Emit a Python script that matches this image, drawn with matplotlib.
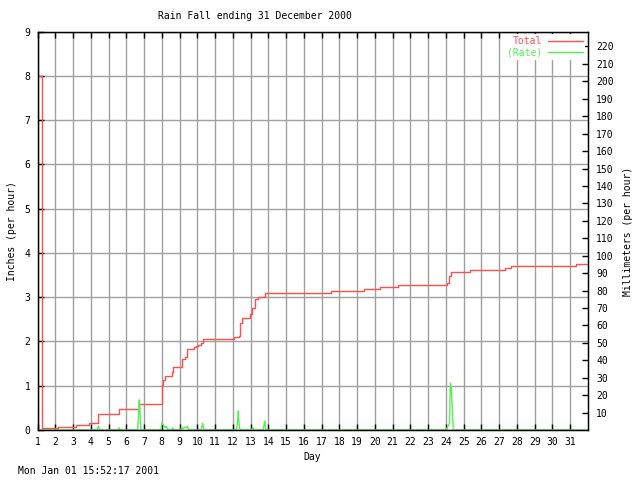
#! /usr/bin/env python
# Rain fall chart for December 2000, drawn to look like the old gnuplot png.
# usage: python plot.py

import numpy as np
import matplotlib
matplotlib.use("Agg")
import matplotlib.pyplot as plt

# total rain (inches), drawn as steps
total_days = [1.0, 1.28, 2.18, 3.16, 3.92, 4.43, 5.60, 6.73, 7.89,
              8.0, 8.08, 8.17, 8.45, 8.55, 8.64, 8.92, 9.11, 9.16, 9.29,
              9.42, 9.82, 9.90, 10.05, 10.20, 10.32, 12.0, 12.05, 12.33,
              12.38, 12.53, 12.85, 12.95, 13.09, 13.22, 13.41, 13.70, 13.82,
              17.53, 19.36, 20.30, 21.31, 24.08, 24.15, 24.20, 24.27,
              25.33, 27.31, 27.65, 31.34, 32.0]
total_inches = [8.0, 0.04, 0.068, 0.106, 0.158, 0.36, 0.475, 0.59, 0.59,
                1.02, 1.13, 1.22, 1.22, 1.32, 1.42, 1.42, 1.51, 1.60, 1.65,
                1.84, 1.88, 1.90, 1.93, 1.97, 2.05, 2.05, 2.11, 2.12,
                2.42, 2.54, 2.54, 2.63, 2.75, 2.96, 3.00, 3.01, 3.10,
                3.14, 3.18, 3.23, 3.27, 3.33, 3.40, 3.48, 3.57,
                3.61, 3.66, 3.71, 3.74, 3.74]

# rain rate (inches per hour)
rate_days = [1.0, 4.35, 4.43, 4.50, 5.55, 5.60, 5.65,
             6.62, 6.64, 6.67, 6.73, 6.77, 6.82,
             7.95, 8.0, 8.08, 8.17, 8.25, 8.32, 8.55, 8.62, 8.68,
             9.05, 9.12, 9.20, 9.30, 9.38, 9.45, 9.52,
             10.22, 10.30, 10.38, 12.20, 12.23, 12.27, 12.31, 12.34, 12.38, 12.45,
             13.05, 13.12, 13.20, 13.70, 13.75, 13.80, 13.85,
             24.0, 24.09, 24.20, 24.25, 24.31, 24.37, 24.41, 32.0]
rate_inches = [0.0, 0.0, 0.09, 0.0, 0.0, 0.05, 0.0,
               0.0, 0.02, 0.20, 0.68, 0.42, 0.0,
               0.0, 0.15, 0.12, 0.06, 0.08, 0.02, 0.0, 0.05, 0.0,
               0.0, 0.06, 0.03, 0.07, 0.05, 0.08, 0.0,
               0.0, 0.15, 0.0, 0.0, 0.07, 0.21, 0.43, 0.19, 0.04, 0.0,
               0.0, 0.06, 0.0, 0.0, 0.10, 0.20, 0.0,
               0.0, 0.07, 0.15, 1.06, 0.94, 0.38, 0.0, 0.0]

day_ticks = list(range(1, 32))
inch_ticks = list(range(0, 10))
mm_ticks = list(range(10, 221, 10))


def main():
    font = "DejaVu Sans Mono"
    fs = 7
    plt.rcParams["font.family"] = font

    fig = plt.figure(figsize=(6.4, 4.8), dpi=100)
    ax = fig.add_axes([37.5 / 640, 1 - 430 / 480, (588 - 37.5) / 640, (430 - 31.5) / 480])

    red = "#ff5050"
    green = "#55f055"

    ax.plot(total_days, total_inches, color=red, lw=1.0, drawstyle="steps-post", label="Total")
    ax.plot(rate_days, rate_inches, color=green, lw=1.0, label="(Rate)")

    ax.set_xlim(1, 32)
    ax.set_ylim(0, 9)
    ax.set_xticks(day_ticks)
    ax.set_yticks(inch_ticks)
    ax.grid(True, color="#a0a0a0", lw=1.0)
    ax.set_axisbelow(True)
    ax.tick_params(direction="in", length=4, width=1, top=True, right=True,
                   labelsize=fs, pad=5)
    for s in ax.spines.values():
        s.set_linewidth(1.0)

    ax2 = ax.twinx()
    ax2.set_ylim(0, 9 * 25.4)
    ax2.set_yticks(mm_ticks)
    ax2.tick_params(direction="in", length=4, width=1, labelsize=fs, pad=6)

    # legend: label text first, then the line sample
    h, l = ax.get_legend_handles_labels()
    leg = ax2.legend(h, l, loc="upper right", markerfirst=False, labelcolor="linecolor",
                     fontsize=fs, frameon=True, fancybox=False, edgecolor="none",
                     facecolor="white", framealpha=1, handlelength=3.6,
                     labelspacing=0.15, borderpad=0.2, borderaxespad=0.3,
                     handletextpad=0.6)

    fig.text(255 / 640, 1 - 16 / 480, "Rain Fall ending 31 December 2000",
             ha="center", va="center", fontsize=fs)
    fig.text(312 / 640, 1 - 457 / 480, "Day", ha="center", va="center", fontsize=fs)
    fig.text(12 / 640, 1 - 231 / 480, "Inches (per hour)", ha="center", va="center",
             rotation=90, fontsize=fs)
    fig.text(628 / 640, 1 - 231 / 480, "Millimeters (per hour)", ha="center", va="center",
             rotation=90, fontsize=fs)
    fig.text(18 / 640, 1 - 471 / 480, "Mon Jan 01 15:52:17 2001", ha="left", va="center",
             fontsize=fs)

    fig.savefig("out.png", dpi=100)


if __name__ == "__main__":
    main()
